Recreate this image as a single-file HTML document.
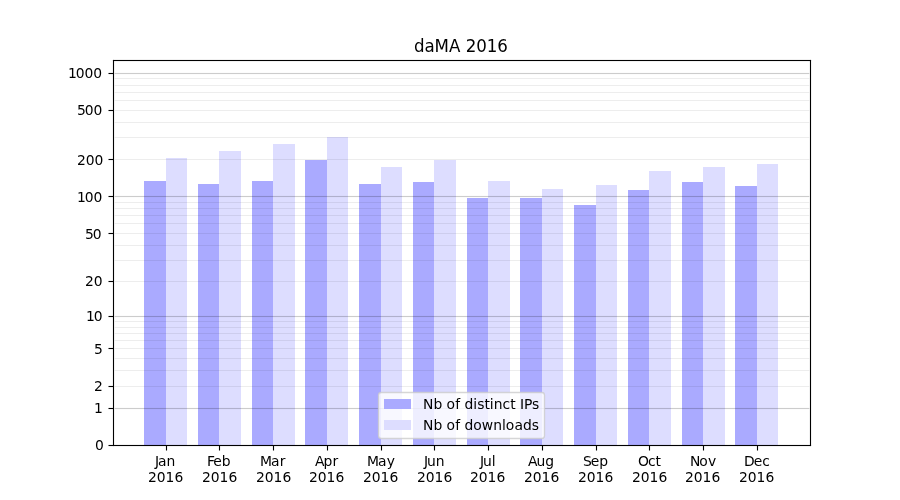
<!DOCTYPE html>
<html lang="en"><head><meta charset="utf-8"><title>daMA 2016</title>
<style>html,body{margin:0;padding:0;background:#fff;overflow:hidden}svg{display:block;will-change:transform}text{font-family:"DejaVu Sans","Liberation Sans",sans-serif;font-size:13.889px;fill:#000;white-space:pre}.t{font-size:16.667px}.c{shape-rendering:crispEdges}</style></head><body>
<svg width="900" height="500" viewBox="0 0 900 500">
<rect width="900" height="500" fill="#fff"/>
<g class="c">
<rect x="144" y="181" width="22" height="264" fill="#aaaaff"/>
<rect x="166" y="158" width="21" height="287" fill="#ddddff"/>
<rect x="198" y="184" width="21" height="261" fill="#aaaaff"/>
<rect x="219" y="151" width="22" height="294" fill="#ddddff"/>
<rect x="252" y="181" width="21" height="264" fill="#aaaaff"/>
<rect x="273" y="144" width="22" height="301" fill="#ddddff"/>
<rect x="305" y="160" width="22" height="285" fill="#aaaaff"/>
<rect x="327" y="137" width="21" height="308" fill="#ddddff"/>
<rect x="359" y="184" width="22" height="261" fill="#aaaaff"/>
<rect x="381" y="167" width="21" height="278" fill="#ddddff"/>
<rect x="413" y="182" width="21" height="263" fill="#aaaaff"/>
<rect x="434" y="160" width="22" height="285" fill="#ddddff"/>
<rect x="467" y="198" width="21" height="247" fill="#aaaaff"/>
<rect x="488" y="181" width="22" height="264" fill="#ddddff"/>
<rect x="520" y="198" width="22" height="247" fill="#aaaaff"/>
<rect x="542" y="189" width="21" height="256" fill="#ddddff"/>
<rect x="574" y="205" width="22" height="240" fill="#aaaaff"/>
<rect x="596" y="185" width="21" height="260" fill="#ddddff"/>
<rect x="628" y="190" width="21" height="255" fill="#aaaaff"/>
<rect x="649" y="171" width="22" height="274" fill="#ddddff"/>
<rect x="682" y="182" width="21" height="263" fill="#aaaaff"/>
<rect x="703" y="167" width="22" height="278" fill="#ddddff"/>
<rect x="735" y="186" width="22" height="259" fill="#aaaaff"/>
<rect x="757" y="164" width="21" height="281" fill="#ddddff"/>
</g>
<g class="c" fill="#000">
<rect x="115" y="408" width="694" height="1" fill-opacity="0.2"/>
<rect x="114" y="408" width="1" height="1" fill-opacity="0.06"/><rect x="809" y="408" width="1" height="1" fill-opacity="0.06"/>
<rect x="115" y="407" width="694" height="1" fill-opacity="0.011"/>
<rect x="115" y="409" width="694" height="1" fill-opacity="0.011"/>
<rect x="115" y="316" width="694" height="1" fill-opacity="0.2"/>
<rect x="114" y="316" width="1" height="1" fill-opacity="0.06"/><rect x="809" y="316" width="1" height="1" fill-opacity="0.06"/>
<rect x="115" y="315" width="694" height="1" fill-opacity="0.011"/>
<rect x="115" y="317" width="694" height="1" fill-opacity="0.011"/>
<rect x="115" y="196" width="694" height="1" fill-opacity="0.2"/>
<rect x="114" y="196" width="1" height="1" fill-opacity="0.06"/><rect x="809" y="196" width="1" height="1" fill-opacity="0.06"/>
<rect x="115" y="195" width="694" height="1" fill-opacity="0.011"/>
<rect x="115" y="197" width="694" height="1" fill-opacity="0.011"/>
<rect x="115" y="73" width="694" height="1" fill-opacity="0.2"/>
<rect x="114" y="73" width="1" height="1" fill-opacity="0.06"/><rect x="809" y="73" width="1" height="1" fill-opacity="0.06"/>
<rect x="115" y="72" width="694" height="1" fill-opacity="0.011"/>
<rect x="115" y="74" width="694" height="1" fill-opacity="0.011"/>
<rect x="115" y="386" width="694" height="1" fill-opacity="0.07"/>
<rect x="114" y="386" width="1" height="1" fill-opacity="0.02"/><rect x="809" y="386" width="1" height="1" fill-opacity="0.02"/>
<rect x="115" y="370" width="694" height="1" fill-opacity="0.07"/>
<rect x="114" y="370" width="1" height="1" fill-opacity="0.02"/><rect x="809" y="370" width="1" height="1" fill-opacity="0.02"/>
<rect x="115" y="358" width="694" height="1" fill-opacity="0.07"/>
<rect x="114" y="358" width="1" height="1" fill-opacity="0.02"/><rect x="809" y="358" width="1" height="1" fill-opacity="0.02"/>
<rect x="115" y="348" width="694" height="1" fill-opacity="0.07"/>
<rect x="114" y="348" width="1" height="1" fill-opacity="0.02"/><rect x="809" y="348" width="1" height="1" fill-opacity="0.02"/>
<rect x="115" y="340" width="694" height="1" fill-opacity="0.07"/>
<rect x="114" y="340" width="1" height="1" fill-opacity="0.02"/><rect x="809" y="340" width="1" height="1" fill-opacity="0.02"/>
<rect x="115" y="333" width="694" height="1" fill-opacity="0.07"/>
<rect x="114" y="333" width="1" height="1" fill-opacity="0.02"/><rect x="809" y="333" width="1" height="1" fill-opacity="0.02"/>
<rect x="115" y="327" width="694" height="1" fill-opacity="0.07"/>
<rect x="114" y="327" width="1" height="1" fill-opacity="0.02"/><rect x="809" y="327" width="1" height="1" fill-opacity="0.02"/>
<rect x="115" y="321" width="694" height="1" fill-opacity="0.07"/>
<rect x="114" y="321" width="1" height="1" fill-opacity="0.02"/><rect x="809" y="321" width="1" height="1" fill-opacity="0.02"/>
<rect x="115" y="281" width="694" height="1" fill-opacity="0.07"/>
<rect x="114" y="281" width="1" height="1" fill-opacity="0.02"/><rect x="809" y="281" width="1" height="1" fill-opacity="0.02"/>
<rect x="115" y="260" width="694" height="1" fill-opacity="0.07"/>
<rect x="114" y="260" width="1" height="1" fill-opacity="0.02"/><rect x="809" y="260" width="1" height="1" fill-opacity="0.02"/>
<rect x="115" y="245" width="694" height="1" fill-opacity="0.07"/>
<rect x="114" y="245" width="1" height="1" fill-opacity="0.02"/><rect x="809" y="245" width="1" height="1" fill-opacity="0.02"/>
<rect x="115" y="233" width="694" height="1" fill-opacity="0.07"/>
<rect x="114" y="233" width="1" height="1" fill-opacity="0.02"/><rect x="809" y="233" width="1" height="1" fill-opacity="0.02"/>
<rect x="115" y="223" width="694" height="1" fill-opacity="0.07"/>
<rect x="114" y="223" width="1" height="1" fill-opacity="0.02"/><rect x="809" y="223" width="1" height="1" fill-opacity="0.02"/>
<rect x="115" y="215" width="694" height="1" fill-opacity="0.07"/>
<rect x="114" y="215" width="1" height="1" fill-opacity="0.02"/><rect x="809" y="215" width="1" height="1" fill-opacity="0.02"/>
<rect x="115" y="208" width="694" height="1" fill-opacity="0.07"/>
<rect x="114" y="208" width="1" height="1" fill-opacity="0.02"/><rect x="809" y="208" width="1" height="1" fill-opacity="0.02"/>
<rect x="115" y="202" width="694" height="1" fill-opacity="0.07"/>
<rect x="114" y="202" width="1" height="1" fill-opacity="0.02"/><rect x="809" y="202" width="1" height="1" fill-opacity="0.02"/>
<rect x="115" y="159" width="694" height="1" fill-opacity="0.07"/>
<rect x="114" y="159" width="1" height="1" fill-opacity="0.02"/><rect x="809" y="159" width="1" height="1" fill-opacity="0.02"/>
<rect x="115" y="137" width="694" height="1" fill-opacity="0.07"/>
<rect x="114" y="137" width="1" height="1" fill-opacity="0.02"/><rect x="809" y="137" width="1" height="1" fill-opacity="0.02"/>
<rect x="115" y="122" width="694" height="1" fill-opacity="0.07"/>
<rect x="114" y="122" width="1" height="1" fill-opacity="0.02"/><rect x="809" y="122" width="1" height="1" fill-opacity="0.02"/>
<rect x="115" y="110" width="694" height="1" fill-opacity="0.07"/>
<rect x="114" y="110" width="1" height="1" fill-opacity="0.02"/><rect x="809" y="110" width="1" height="1" fill-opacity="0.02"/>
<rect x="115" y="100" width="694" height="1" fill-opacity="0.07"/>
<rect x="114" y="100" width="1" height="1" fill-opacity="0.02"/><rect x="809" y="100" width="1" height="1" fill-opacity="0.02"/>
<rect x="115" y="92" width="694" height="1" fill-opacity="0.07"/>
<rect x="114" y="92" width="1" height="1" fill-opacity="0.02"/><rect x="809" y="92" width="1" height="1" fill-opacity="0.02"/>
<rect x="115" y="85" width="694" height="1" fill-opacity="0.07"/>
<rect x="114" y="85" width="1" height="1" fill-opacity="0.02"/><rect x="809" y="85" width="1" height="1" fill-opacity="0.02"/>
<rect x="115" y="78" width="694" height="1" fill-opacity="0.07"/>
<rect x="114" y="78" width="1" height="1" fill-opacity="0.02"/><rect x="809" y="78" width="1" height="1" fill-opacity="0.02"/>
</g>
<g class="c" fill="#000">
<rect x="112" y="60" width="1" height="386" fill-opacity="0.055"/>
<rect x="114" y="60" width="1" height="386" fill-opacity="0.055"/>
<rect x="809" y="60" width="1" height="386" fill-opacity="0.055"/>
<rect x="811" y="60" width="1" height="386" fill-opacity="0.055"/>
<rect x="113" y="59" width="698" height="1" fill-opacity="0.055"/>
<rect x="113" y="61" width="698" height="1" fill-opacity="0.055"/>
<rect x="113" y="444" width="698" height="1" fill-opacity="0.055"/>
<rect x="113" y="446" width="698" height="1" fill-opacity="0.055"/>
<rect x="113" y="59" width="1" height="1" fill-opacity="0.055"/>
<rect x="810" y="59" width="1" height="1" fill-opacity="0.055"/>
<rect x="112" y="60" width="1" height="1" fill-opacity="0.055"/>
<rect x="811" y="60" width="1" height="1" fill-opacity="0.055"/>
<rect x="811" y="445" width="1" height="1" fill-opacity="0.055"/>
<rect x="113" y="446" width="1" height="1" fill-opacity="0.055"/>
<rect x="810" y="446" width="1" height="1" fill-opacity="0.055"/>
<rect x="113" y="60" width="1" height="386"/><rect x="810" y="60" width="1" height="386"/>
<rect x="113" y="60" width="698" height="1"/><rect x="113" y="445" width="698" height="1"/>
<rect x="109" y="445" width="4" height="1"/><rect x="108" y="445" width="1" height="1" fill-opacity="0.5"/>
<rect x="109" y="444" width="4" height="1" fill-opacity="0.055"/><rect x="109" y="446" width="4" height="1" fill-opacity="0.055"/>
<rect x="108" y="444" width="1" height="1" fill-opacity="0.027"/><rect x="108" y="446" width="1" height="1" fill-opacity="0.027"/>
<rect x="109" y="408" width="4" height="1"/><rect x="108" y="408" width="1" height="1" fill-opacity="0.5"/>
<rect x="109" y="407" width="4" height="1" fill-opacity="0.055"/><rect x="109" y="409" width="4" height="1" fill-opacity="0.055"/>
<rect x="108" y="407" width="1" height="1" fill-opacity="0.027"/><rect x="108" y="409" width="1" height="1" fill-opacity="0.027"/>
<rect x="109" y="386" width="4" height="1"/><rect x="108" y="386" width="1" height="1" fill-opacity="0.5"/>
<rect x="109" y="385" width="4" height="1" fill-opacity="0.055"/><rect x="109" y="387" width="4" height="1" fill-opacity="0.055"/>
<rect x="108" y="385" width="1" height="1" fill-opacity="0.027"/><rect x="108" y="387" width="1" height="1" fill-opacity="0.027"/>
<rect x="109" y="348" width="4" height="1"/><rect x="108" y="348" width="1" height="1" fill-opacity="0.5"/>
<rect x="109" y="347" width="4" height="1" fill-opacity="0.055"/><rect x="109" y="349" width="4" height="1" fill-opacity="0.055"/>
<rect x="108" y="347" width="1" height="1" fill-opacity="0.027"/><rect x="108" y="349" width="1" height="1" fill-opacity="0.027"/>
<rect x="109" y="316" width="4" height="1"/><rect x="108" y="316" width="1" height="1" fill-opacity="0.5"/>
<rect x="109" y="315" width="4" height="1" fill-opacity="0.055"/><rect x="109" y="317" width="4" height="1" fill-opacity="0.055"/>
<rect x="108" y="315" width="1" height="1" fill-opacity="0.027"/><rect x="108" y="317" width="1" height="1" fill-opacity="0.027"/>
<rect x="109" y="281" width="4" height="1"/><rect x="108" y="281" width="1" height="1" fill-opacity="0.5"/>
<rect x="109" y="280" width="4" height="1" fill-opacity="0.055"/><rect x="109" y="282" width="4" height="1" fill-opacity="0.055"/>
<rect x="108" y="280" width="1" height="1" fill-opacity="0.027"/><rect x="108" y="282" width="1" height="1" fill-opacity="0.027"/>
<rect x="109" y="233" width="4" height="1"/><rect x="108" y="233" width="1" height="1" fill-opacity="0.5"/>
<rect x="109" y="232" width="4" height="1" fill-opacity="0.055"/><rect x="109" y="234" width="4" height="1" fill-opacity="0.055"/>
<rect x="108" y="232" width="1" height="1" fill-opacity="0.027"/><rect x="108" y="234" width="1" height="1" fill-opacity="0.027"/>
<rect x="109" y="196" width="4" height="1"/><rect x="108" y="196" width="1" height="1" fill-opacity="0.5"/>
<rect x="109" y="195" width="4" height="1" fill-opacity="0.055"/><rect x="109" y="197" width="4" height="1" fill-opacity="0.055"/>
<rect x="108" y="195" width="1" height="1" fill-opacity="0.027"/><rect x="108" y="197" width="1" height="1" fill-opacity="0.027"/>
<rect x="109" y="159" width="4" height="1"/><rect x="108" y="159" width="1" height="1" fill-opacity="0.5"/>
<rect x="109" y="158" width="4" height="1" fill-opacity="0.055"/><rect x="109" y="160" width="4" height="1" fill-opacity="0.055"/>
<rect x="108" y="158" width="1" height="1" fill-opacity="0.027"/><rect x="108" y="160" width="1" height="1" fill-opacity="0.027"/>
<rect x="109" y="110" width="4" height="1"/><rect x="108" y="110" width="1" height="1" fill-opacity="0.5"/>
<rect x="109" y="109" width="4" height="1" fill-opacity="0.055"/><rect x="109" y="111" width="4" height="1" fill-opacity="0.055"/>
<rect x="108" y="109" width="1" height="1" fill-opacity="0.027"/><rect x="108" y="111" width="1" height="1" fill-opacity="0.027"/>
<rect x="109" y="73" width="4" height="1"/><rect x="108" y="73" width="1" height="1" fill-opacity="0.5"/>
<rect x="109" y="72" width="4" height="1" fill-opacity="0.055"/><rect x="109" y="74" width="4" height="1" fill-opacity="0.055"/>
<rect x="108" y="72" width="1" height="1" fill-opacity="0.027"/><rect x="108" y="74" width="1" height="1" fill-opacity="0.027"/>
<rect x="166" y="446" width="1" height="4"/><rect x="166" y="450" width="1" height="1" fill-opacity="0.5"/>
<rect x="165" y="446" width="1" height="4" fill-opacity="0.055"/><rect x="167" y="446" width="1" height="4" fill-opacity="0.055"/>
<rect x="165" y="450" width="1" height="1" fill-opacity="0.027"/><rect x="167" y="450" width="1" height="1" fill-opacity="0.027"/>
<rect x="219" y="446" width="1" height="4"/><rect x="219" y="450" width="1" height="1" fill-opacity="0.5"/>
<rect x="218" y="446" width="1" height="4" fill-opacity="0.055"/><rect x="220" y="446" width="1" height="4" fill-opacity="0.055"/>
<rect x="218" y="450" width="1" height="1" fill-opacity="0.027"/><rect x="220" y="450" width="1" height="1" fill-opacity="0.027"/>
<rect x="273" y="446" width="1" height="4"/><rect x="273" y="450" width="1" height="1" fill-opacity="0.5"/>
<rect x="272" y="446" width="1" height="4" fill-opacity="0.055"/><rect x="274" y="446" width="1" height="4" fill-opacity="0.055"/>
<rect x="272" y="450" width="1" height="1" fill-opacity="0.027"/><rect x="274" y="450" width="1" height="1" fill-opacity="0.027"/>
<rect x="327" y="446" width="1" height="4"/><rect x="327" y="450" width="1" height="1" fill-opacity="0.5"/>
<rect x="326" y="446" width="1" height="4" fill-opacity="0.055"/><rect x="328" y="446" width="1" height="4" fill-opacity="0.055"/>
<rect x="326" y="450" width="1" height="1" fill-opacity="0.027"/><rect x="328" y="450" width="1" height="1" fill-opacity="0.027"/>
<rect x="381" y="446" width="1" height="4"/><rect x="381" y="450" width="1" height="1" fill-opacity="0.5"/>
<rect x="380" y="446" width="1" height="4" fill-opacity="0.055"/><rect x="382" y="446" width="1" height="4" fill-opacity="0.055"/>
<rect x="380" y="450" width="1" height="1" fill-opacity="0.027"/><rect x="382" y="450" width="1" height="1" fill-opacity="0.027"/>
<rect x="434" y="446" width="1" height="4"/><rect x="434" y="450" width="1" height="1" fill-opacity="0.5"/>
<rect x="433" y="446" width="1" height="4" fill-opacity="0.055"/><rect x="435" y="446" width="1" height="4" fill-opacity="0.055"/>
<rect x="433" y="450" width="1" height="1" fill-opacity="0.027"/><rect x="435" y="450" width="1" height="1" fill-opacity="0.027"/>
<rect x="488" y="446" width="1" height="4"/><rect x="488" y="450" width="1" height="1" fill-opacity="0.5"/>
<rect x="487" y="446" width="1" height="4" fill-opacity="0.055"/><rect x="489" y="446" width="1" height="4" fill-opacity="0.055"/>
<rect x="487" y="450" width="1" height="1" fill-opacity="0.027"/><rect x="489" y="450" width="1" height="1" fill-opacity="0.027"/>
<rect x="542" y="446" width="1" height="4"/><rect x="542" y="450" width="1" height="1" fill-opacity="0.5"/>
<rect x="541" y="446" width="1" height="4" fill-opacity="0.055"/><rect x="543" y="446" width="1" height="4" fill-opacity="0.055"/>
<rect x="541" y="450" width="1" height="1" fill-opacity="0.027"/><rect x="543" y="450" width="1" height="1" fill-opacity="0.027"/>
<rect x="596" y="446" width="1" height="4"/><rect x="596" y="450" width="1" height="1" fill-opacity="0.5"/>
<rect x="595" y="446" width="1" height="4" fill-opacity="0.055"/><rect x="597" y="446" width="1" height="4" fill-opacity="0.055"/>
<rect x="595" y="450" width="1" height="1" fill-opacity="0.027"/><rect x="597" y="450" width="1" height="1" fill-opacity="0.027"/>
<rect x="649" y="446" width="1" height="4"/><rect x="649" y="450" width="1" height="1" fill-opacity="0.5"/>
<rect x="648" y="446" width="1" height="4" fill-opacity="0.055"/><rect x="650" y="446" width="1" height="4" fill-opacity="0.055"/>
<rect x="648" y="450" width="1" height="1" fill-opacity="0.027"/><rect x="650" y="450" width="1" height="1" fill-opacity="0.027"/>
<rect x="703" y="446" width="1" height="4"/><rect x="703" y="450" width="1" height="1" fill-opacity="0.5"/>
<rect x="702" y="446" width="1" height="4" fill-opacity="0.055"/><rect x="704" y="446" width="1" height="4" fill-opacity="0.055"/>
<rect x="702" y="450" width="1" height="1" fill-opacity="0.027"/><rect x="704" y="450" width="1" height="1" fill-opacity="0.027"/>
<rect x="757" y="446" width="1" height="4"/><rect x="757" y="450" width="1" height="1" fill-opacity="0.5"/>
<rect x="756" y="446" width="1" height="4" fill-opacity="0.055"/><rect x="758" y="446" width="1" height="4" fill-opacity="0.055"/>
<rect x="756" y="450" width="1" height="1" fill-opacity="0.027"/><rect x="758" y="450" width="1" height="1" fill-opacity="0.027"/>
</g>
<text x="94.875" y="450">0</text>
<text x="93.938" y="413">1</text>
<text x="94" y="391">2</text>
<text x="93.938" y="354">5</text>
<text x="85.938 93.812" y="321">10</text>
<text x="85 93.75" y="286">20</text>
<text x="84.938 92.688" y="239">50</text>
<text x="76.938 84.812 93.562" y="202">100</text>
<text x="77 85.75 94.5" y="165">200</text>
<text x="76.938 84.688 93.438" y="115">500</text>
<text x="67.938 75.812 84.562 93.312" y="78">1000</text>
<text x="154.938 157.938 166.562" y="466">Jan</text><text x="148 156.75 165.5 174.375" y="482">2016</text>
<text x="206.875 213.125 221.625" y="466">Feb</text><text x="202 210.75 219.5 228.375" y="482">2016</text>
<text x="259.875 270.875 279.75" y="466">Mar</text><text x="256 264.75 273.5 282.375" y="482">2016</text>
<text x="314.891 323.391 332.516" y="466">Apr</text><text x="309 317.75 326.5 335.375" y="482">2016</text>
<text x="366.875 377.875 386.75" y="466">May</text><text x="363 371.75 380.5 389.375" y="482">2016</text>
<text x="423.938 426.938 435.688" y="466">Jun</text><text x="417 425.75 434.5 443.375" y="482">2016</text>
<text x="479.938 482.938 491.688" y="466">Jul</text><text x="470 478.75 487.5 496.375" y="482">2016</text>
<text x="527.891 536.391 545.141" y="466">Aug</text><text x="524 532.75 541.5 550.375" y="482">2016</text>
<text x="582.875 590.625 599.125" y="466">Sep</text><text x="578 586.75 595.5 604.375" y="482">2016</text>
<text x="638 647.875 655.5" y="466">Oct</text><text x="632 640.75 649.5 658.375" y="482">2016</text>
<text x="689.875 699.25 708" y="466">Nov</text><text x="685 693.75 702.5 711.375" y="482">2016</text>
<text x="743.875 753.625 762.125" y="466">Dec</text><text x="739 747.75 756.5 765.375" y="482">2016</text>
<text class="t" x="414 424.5 434.625 449 460.375 465.875 476.25 486.75 497.375" y="0" transform="translate(0 52) scale(1 1.07)">daMA 2016</text>
<rect x="378.5" y="392.5" width="166" height="46" rx="2.78" ry="2.78" fill="#fff" fill-opacity="0.8" stroke="#ccc" stroke-opacity="0.8" stroke-width="1.3"/>
<g class="c"><rect x="384" y="399" width="27" height="10" fill="#aaaaff"/><rect x="384" y="420" width="27" height="10" fill="#ddddff"/></g>
<text x="423 433.375 442.25 446.375 455.125 460.125 464.5 473.125 477.25 484.375 489.625 493.75 502.5 510.125 515.625 520 524 531.875" y="409">Nb of distinct IPs</text><text x="423 433.375 442.25 446.375 455.125 460.125 464.5 473.125 481.625 493.25 502 505.625 514.375 523 531.625" y="430">Nb of downloads</text>
</svg></body></html>
